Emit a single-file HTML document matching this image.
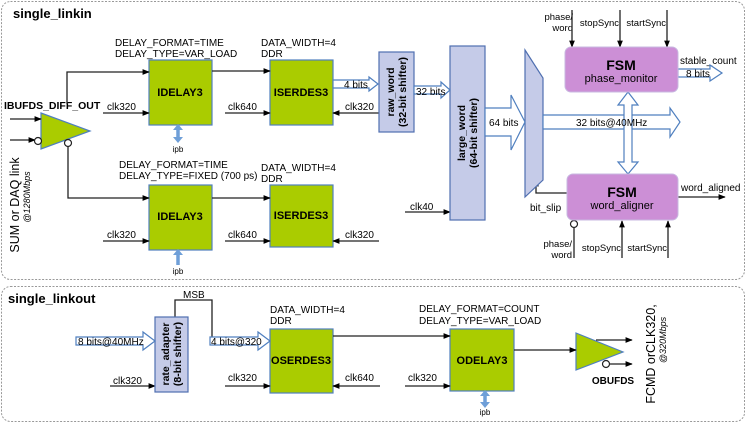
<!DOCTYPE html>
<html><head><meta charset="utf-8"><style>
body{margin:0;background:#fff}
svg{display:block;font-family:"Liberation Sans",sans-serif}
</style></head><body>
<svg width="747" height="424" viewBox="0 0 747 424" xmlns="http://www.w3.org/2000/svg">
<defs>
<marker id="a" viewBox="0 0 10 10" refX="9" refY="5" markerWidth="5.5" markerHeight="5.5" orient="auto-start-reverse"><path d="M0,1 L10,5 L0,9 z" fill="#000"/></marker>
</defs>
<g fill="none" stroke="#999" stroke-dasharray="2,1.5">
<rect x="1.5" y="1.5" width="743" height="278" rx="9"/>
<rect x="1.5" y="286.5" width="743" height="135" rx="9"/>
</g>
<g font-size="12" fill="#000">
<text x="13" y="18" font-size="13" font-weight="bold">single_linkin</text>
<text x="8" y="303" font-size="13" font-weight="bold">single_linkout</text>
</g>
<g fill="#aacc00" stroke="#4f7fbf" stroke-width="1.2">
<rect x="149" y="60" width="63" height="65"/>
<rect x="270" y="60" width="63" height="65"/>
<rect x="149" y="185" width="63" height="65"/>
<rect x="270" y="185" width="63" height="62"/>
<rect x="270" y="329" width="63" height="64"/>
<rect x="450" y="329" width="64" height="62"/>
<polygon points="41,113 90,131 41,149"/>
<polygon points="576,333 623,352 576,370"/>
</g>
<g font-size="11" font-weight="bold" text-anchor="middle">
<text x="180" y="96">IDELAY3</text>
<text x="301" y="96">ISERDES3</text>
<text x="180" y="220">IDELAY3</text>
<text x="301" y="219">ISERDES3</text>
<text x="301" y="364">OSERDES3</text>
<text x="482" y="364">ODELAY3</text>
<text x="613" y="384" font-size="10">OBUFDS</text>
<text x="4" y="109" text-anchor="start" font-size="10.5">IBUFDS_DIFF_OUT</text>
</g>
<g font-size="10">
<text x="115" y="46">DELAY_FORMAT=TIME</text>
<text x="115" y="57">DELAY_TYPE=VAR_LOAD</text>
<text x="261" y="46">DATA_WIDTH=4</text>
<text x="261" y="57">DDR</text>
<text x="119" y="168">DELAY_FORMAT=TIME</text>
<text x="119" y="179">DELAY_TYPE=FIXED (700 ps)</text>
<text x="261" y="171">DATA_WIDTH=4</text>
<text x="261" y="182">DDR</text>
<text x="270" y="313">DATA_WIDTH=4</text>
<text x="270" y="324">DDR</text>
<text x="419" y="312">DELAY_FORMAT=COUNT</text>
<text x="419" y="324">DELAY_TYPE=VAR_LOAD</text>
<text x="107" y="110">clk320</text>
<text x="228" y="110">clk640</text>
<text x="345" y="110">clk320</text>
<text x="107" y="238">clk320</text>
<text x="228" y="238">clk640</text>
<text x="345" y="238">clk320</text>
<text x="410" y="210">clk40</text>
<text x="113" y="384">clk320</text>
<text x="228" y="381">clk320</text>
<text x="345" y="381">clk640</text>
<text x="408" y="381">clk320</text>
<text x="183" y="298">MSB</text>
<text x="680" y="64">stable_count</text>
<text x="681" y="191">word_aligned</text>
<text x="530" y="211">bit_slip</text>
</g>
<g font-size="8" text-anchor="middle">
<text x="178" y="152">ipb</text>
<text x="178" y="274">ipb</text>
<text x="485" y="415">ipb</text>
</g>
<g font-size="9.5" text-anchor="end">
<text x="573" y="20">phase/</text><text x="573" y="31">word</text>
<text x="619" y="26">stopSync</text>
<text x="666" y="26">startSync</text>
<text x="572" y="247">phase/</text><text x="572" y="258">word</text>
<text x="621" y="251">stopSync</text>
<text x="667" y="251">startSync</text>
</g>
<g stroke="#222" stroke-width="1.3" fill="none">
<path d="M10,119 H41" marker-end="url(#a)"/>
<path d="M10,140 H35" marker-end="url(#a)"/>
<path d="M67,104 V72 H149" marker-end="url(#a)"/>
<path d="M68,147 V198 H149" marker-end="url(#a)"/>
<path d="M212,71 H270" marker-end="url(#a)"/>
<path d="M212,198 H270" marker-end="url(#a)"/>
<path d="M103,113 H149" marker-end="url(#a)"/>
<path d="M225,113 H270" marker-end="url(#a)"/>
<path d="M379,113 H333" marker-end="url(#a)"/>
<path d="M103,241 H149" marker-end="url(#a)"/>
<path d="M225,241 H270" marker-end="url(#a)"/>
<path d="M379,241 H333" marker-end="url(#a)"/>
<path d="M405,212 H450" marker-end="url(#a)"/>
<path d="M567,193 H536 V180" marker-end="url(#a)"/>
<path d="M678,197 H725" marker-end="url(#a)"/>
<path d="M572,10 V47" marker-end="url(#a)"/>
<path d="M620,10 V47" marker-end="url(#a)"/>
<path d="M667,10 V47" marker-end="url(#a)"/>
<path d="M574,258 V228"/>
<path d="M622,258 V221" marker-end="url(#a)"/>
<path d="M668,258 V221" marker-end="url(#a)"/>
<path d="M110,386 H155" marker-end="url(#a)"/>
<path d="M175,317 V300 H212 V341"/>
<path d="M225,386 H270" marker-end="url(#a)"/>
<path d="M380,386 H333" marker-end="url(#a)"/>
<path d="M333,336 H450" marker-end="url(#a)"/>
<path d="M405,386 H450" marker-end="url(#a)"/>
<path d="M514,350 H576" marker-end="url(#a)"/>
<path d="M596,340 H632" marker-end="url(#a)"/>
<path d="M610,364 H632" marker-end="url(#a)"/>
</g>
<g fill="#fff" stroke="#222" stroke-width="1.2">
<circle cx="38" cy="141" r="3.5"/>
<circle cx="68" cy="143" r="3.5"/>
<circle cx="574" cy="224" r="3.5"/>
<circle cx="606" cy="364" r="3.5"/>
</g>
<g stroke="#6f9fd8" stroke-width="3.5" fill="#6f9fd8">
<path d="M178,129 V138"/><path d="M178,254 V265"/><path d="M485,395 V403"/>
</g>
<g fill="#6f9fd8">
<polygon points="173,130 183,130 178,124"/><polygon points="173,137 183,137 178,143"/>
<polygon points="173,255 183,255 178,249"/>
<polygon points="480,396 490,396 485,390"/><polygon points="480,402 490,402 485,408"/>
</g>
<g fill="#c5cbe8" stroke="#4f6fb0" stroke-width="1.2">
<rect x="379" y="52" width="35" height="80"/>
<rect x="450" y="46" width="35" height="174"/>
<rect x="155" y="317" width="33" height="75"/>
<polygon points="525,50 543,78 543,180 525,197"/>
</g>
<g font-size="10.5" font-weight="bold" text-anchor="middle">
<text transform="translate(396,92) rotate(-90)"><tspan x="0" y="-2">raw_word</tspan><tspan x="0" y="10">(32-bit shifter)</tspan></text>
<text transform="translate(467,133) rotate(-90)"><tspan x="0" y="-2">large_word</tspan><tspan x="0" y="10">(64-bit shifter)</tspan></text>
<text transform="translate(171,354) rotate(-90)"><tspan x="0" y="-2">rate_adapter</tspan><tspan x="0" y="10">(8-bit shifter)</tspan></text>
</g>
<g fill="#fff" stroke="#4f7fbf" stroke-width="1.2">
<polygon points="333,80 369,80 369,77 378,84 369,91 369,88 333,88"/>
<polygon points="414,86 441,86 441,82 450,90 441,98 441,94 414,94"/>
<polygon points="485,108 511,108 511,95 525,122 511,150 511,136 485,136"/>
<polygon points="543,115 670,115 670,108 680,122 670,137 670,129 543,129"/>
<polygon points="678,69 710,69 710,65 722,73 710,81 710,77 678,77"/>
<polygon points="624,105 618,105 628,92 638,105 632,105 632,162 638,162 628,174 618,162 624,162"/>
<polygon points="76,337 143,337 143,332 155,341 143,350 143,345 76,345"/>
<polygon points="210,337 258,337 258,332 270,341 258,350 258,345 210,345"/>
</g>
<g font-size="10">
<text x="344" y="88">4 bits</text>
<text x="416" y="95">32 bits</text>
<text x="489" y="126">64 bits</text>
<text x="576" y="126">32 bits@40MHz</text>
<text x="686" y="77">8 bits</text>
<text x="78" y="345">8 bits@40MHz</text>
<text x="211" y="345">4 bits@320</text>
</g>
<g fill="#cc8fd6" stroke="#c8b8e0" stroke-width="1">
<rect x="565" y="47" width="113" height="45" rx="6"/>
<rect x="567" y="174" width="111" height="46" rx="6"/>
</g>
<g text-anchor="middle">
<text x="621" y="70" font-size="14" font-weight="bold">FSM</text>
<text x="621" y="82" font-size="11">phase_monitor</text>
<text x="622" y="197" font-size="14" font-weight="bold">FSM</text>
<text x="622" y="209" font-size="11">word_aligner</text>
</g>
<g text-anchor="middle">
<text transform="translate(19,205) rotate(-90)" font-size="12.5">SUM or DAQ link</text>
<text transform="translate(30,197) rotate(-90)" font-size="9" font-style="italic">@1280Mbps</text>
<text transform="translate(655,354) rotate(-90)" font-size="12.5">FCMD orCLK320,</text>
<text transform="translate(666,340) rotate(-90)" font-size="9" font-style="italic">@320Mbps</text>
</g>
</svg>
</body></html>
